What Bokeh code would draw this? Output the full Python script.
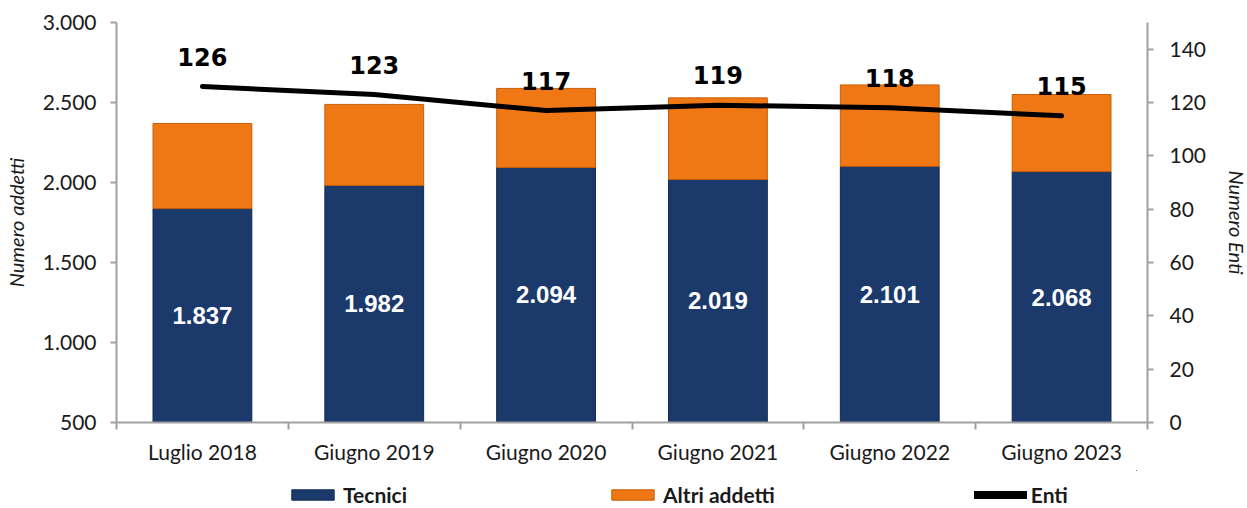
from bokeh.plotting import figure
from bokeh.layouts import column
from bokeh.models import (ColumnDataSource, Range1d, LinearAxis, FixedTicker,
                          Legend, LegendItem)
from bokeh.core.properties import value
from bokeh.embed import file_html
from bokeh.resources import INLINE

categories = ["Luglio 2018", "Giugno 2019", "Giugno 2020", "Giugno 2021", "Giugno 2022", "Giugno 2023"]
tecnici = [1837, 1982, 2094, 2019, 2101, 2068]
altri = [532, 506, 494, 510, 509, 482]
enti = [126, 123, 117, 119, 118, 115]
left_ticks = [500, 1000, 1500, 2000, 2500, 3000]
right_ticks = [0, 20, 40, 60, 80, 100, 120, 140]
series_names = ["Tecnici", "Altri addetti", "Enti"]

BLUE = "#1b3a6b"
ORANGE = "#f07814"
BLUE_EDGE = "#122a50"
ORANGE_EDGE = "#c45f0c"
AXIS = "#a0a0a0"
TXT = "#1a1a1a"
FONT = "Lato"

def it(v):
    return f"{v:,}".replace(",", ".")

xs = [i + 0.5 for i in range(len(categories))]
y0, y1 = 500, 3000
src = ColumnDataSource(dict(
    x=xs, tecnici=tecnici, altri=altri, enti=enti,
    tlab=[it(v) for v in tecnici],
    tmid=[(y0 + v) / 2 for v in tecnici],
    elab=[str(v) for v in enti],
))

p = figure(frame_width=1031, frame_height=400, output_backend="svg", toolbar_location=None,
           x_range=Range1d(0, len(categories)), y_range=Range1d(y0, y1),
           min_border_left=116, min_border_right=94, min_border_top=22, min_border_bottom=48)
p.extra_y_ranges = {"enti": Range1d(0, 150)}
p.outline_line_color = None
p.grid.visible = False

r_bars = p.vbar_stack(["tecnici", "altri"], x="x", width=0.575, source=src,
                      fill_color=[BLUE, ORANGE], line_color=[BLUE_EDGE, ORANGE_EDGE], line_width=1)
r_line = p.line(x="x", y="enti", source=src, y_range_name="enti", line_width=5,
                line_color="black", line_cap="round", line_join="round")

p.text(x="x", y="tmid", text="tlab", source=src, text_color="white",
       text_font=value("Liberation Sans"), text_font_style="bold", text_font_size="24px",
       text_align="center", text_baseline="middle")
p.text(x="x", y="enti", text="elab", source=src, y_range_name="enti", text_color="black",
       text_font=value("DejaVu Sans"), text_font_style="bold", text_font_size="24px",
       text_align="center", text_baseline="middle", y_offset=-30)

# x axis
xa = p.xaxis[0]
xa.ticker = FixedTicker(ticks=xs, minor_ticks=list(range(len(categories) + 1)))
xa.major_label_overrides = {x: c for x, c in zip(xs, categories)}
xa.major_tick_out = 0
xa.major_tick_in = 0
xa.minor_tick_out = 7
xa.minor_tick_in = 0
xa.minor_tick_line_color = AXIS
xa.axis_line_color = AXIS
xa.axis_line_width = 2
xa.minor_tick_line_width = 2
xa.major_label_standoff = 9
xa.major_label_text_font = FONT
xa.major_label_text_font_size = "21px"
xa.major_label_text_color = TXT

# left axis
ya = p.yaxis[0]
ya.ticker = FixedTicker(ticks=left_ticks, minor_ticks=[])
ya.major_label_overrides = {v: it(v) for v in left_ticks}
ya.axis_label = "Numero addetti"

ra = LinearAxis(y_range_name="enti", ticker=FixedTicker(ticks=right_ticks, minor_ticks=[]),
                axis_label="Numero Enti")
p.add_layout(ra, "right")

for ax in [ya, ra]:
    ax.axis_line_color = AXIS
    ax.axis_line_width = 2
    ax.major_tick_line_color = AXIS
    ax.major_tick_line_width = 2
    ax.major_tick_out = 6
    ax.major_tick_in = 0
    ax.minor_tick_line_color = None
    ax.major_label_standoff = 14
    ax.major_label_text_font = FONT
    ax.major_label_text_font_size = "21px"
    ax.major_label_text_color = TXT
    ax.axis_label_text_font = FONT
    ax.axis_label_text_font_size = "20px"
    ax.axis_label_text_font_style = "italic"
    ax.axis_label_text_color = TXT
    ax.axis_label_standoff = 12
ra.major_label_standoff = 16
ra.axis_label_standoff = 16

# legend strip below the chart (its glyphs lie entirely outside its visible ranges)
lg = figure(width=1241, height=37, output_backend="svg", toolbar_location=None,
            x_axis_location=None, y_axis_location=None,
            x_range=Range1d(-20, -19), y_range=Range1d(-2, -1),
            min_border_left=0, min_border_right=0, min_border_top=0, min_border_bottom=0)
lg.outline_line_color = None
lg.grid.visible = False
g1 = lg.vbar(x="x", top="tecnici", width=0.1, source=src, fill_color=BLUE, line_color=BLUE_EDGE)
g2 = lg.vbar(x="x", top="altri", width=0.1, source=src, fill_color=ORANGE, line_color=ORANGE_EDGE)
g3 = lg.line(x="x", y="enti", source=src, line_width=8, line_color="black", line_cap="round")

legend = Legend(items=[LegendItem(label=n, renderers=[r]) for n, r in zip(series_names, [g1, g2, g3])],
                orientation="horizontal", location=(170, 0))
legend.border_line_color = None
legend.background_fill_alpha = 0
legend.glyph_width = 53
legend.glyph_height = 13
legend.spacing = 199
legend.label_standoff = 4
legend.label_text_font = FONT
legend.label_text_font_style = "bold"
legend.label_text_font_size = "21px"
legend.label_text_color = TXT
legend.padding = 2
legend.margin = 0
lg.add_layout(legend, "center")

layout = column(p, lg, spacing=0)
open("out.html", "w").write(file_html(layout, INLINE))
